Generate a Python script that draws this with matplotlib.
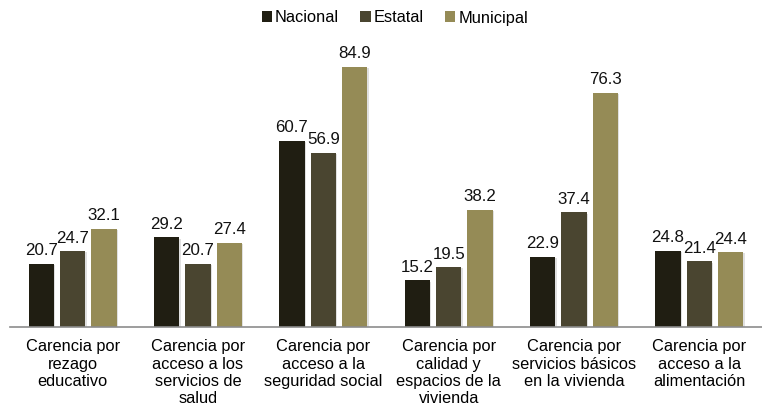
import numpy as np
import matplotlib.pyplot as plt

plt.rcParams['font.family'] = ['Liberation Sans', 'DejaVu Sans']

categorias = ['Carencia por\nrezago\neducativo',
              'Carencia por\nacceso a los\nservicios de\nsalud',
              'Carencia por\nacceso a la\nseguridad social',
              'Carencia por\ncalidad y\nespacios de la\nvivienda',
              'Carencia por\nservicios básicos\nen la vivienda',
              'Carencia por\nacceso a la\nalimentación']
nacional = [20.7, 29.2, 60.7, 15.2, 22.9, 24.8]
estatal = [24.7, 20.7, 56.9, 19.5, 37.4, 21.4]
municipal = [32.1, 27.4, 84.9, 38.2, 76.3, 24.4]

series = [('Nacional', nacional, '#201e12'),
          ('Estatal', estatal, '#4a4530'),
          ('Municipal', municipal, '#958b56')]

fig = plt.figure(figsize=(7.62, 4.12), dpi=100)
ax = fig.add_axes([10/762, 85/412, 752/762, 276/412])

x = np.arange(len(categorias))
step = 0.25
w = 0.2
for i, (nombre, vals, col) in enumerate(series):
    pos = x + (i - 1) * step
    bars = ax.bar(pos, vals, w, color=col, label=nombre, zorder=3)
    # sombra ligera
    ax.bar(pos + 0.012, vals, w, bottom=-0.4, color='#000000', alpha=0.12, zorder=2)
    for p, v in zip(pos, vals):
        ax.annotate(f'{v:.1f}', (p, v), xytext=(0, 4), textcoords='offset points',
                    ha='center', va='bottom', fontsize=12.2, color='#111111')

ax.set_xlim(-0.5, len(categorias) - 0.5)
ax.set_ylim(0, 90)
ax.set_xticks(x)
ax.set_xticklabels(categorias, fontsize=11.8, linespacing=1.17, va='top')
ax.tick_params(axis='x', length=0, pad=9)
ax.set_yticks([])
for s in ['top', 'right', 'left']:
    ax.spines[s].set_visible(False)
ax.spines['bottom'].set_color('#8c8c8c')
ax.spines['bottom'].set_linewidth(1.2)
ax.spines['bottom'].set_zorder(4)

h, l = ax.get_legend_handles_labels()
fig.legend(h, l, loc='center', bbox_to_anchor=(395/762, 1 - 18/412), ncol=3, frameon=False,
           fontsize=11.8, handlelength=0.62, handleheight=0.62, handletextpad=0.2,
           columnspacing=1.3)

fig.savefig('out.png', dpi=100)
